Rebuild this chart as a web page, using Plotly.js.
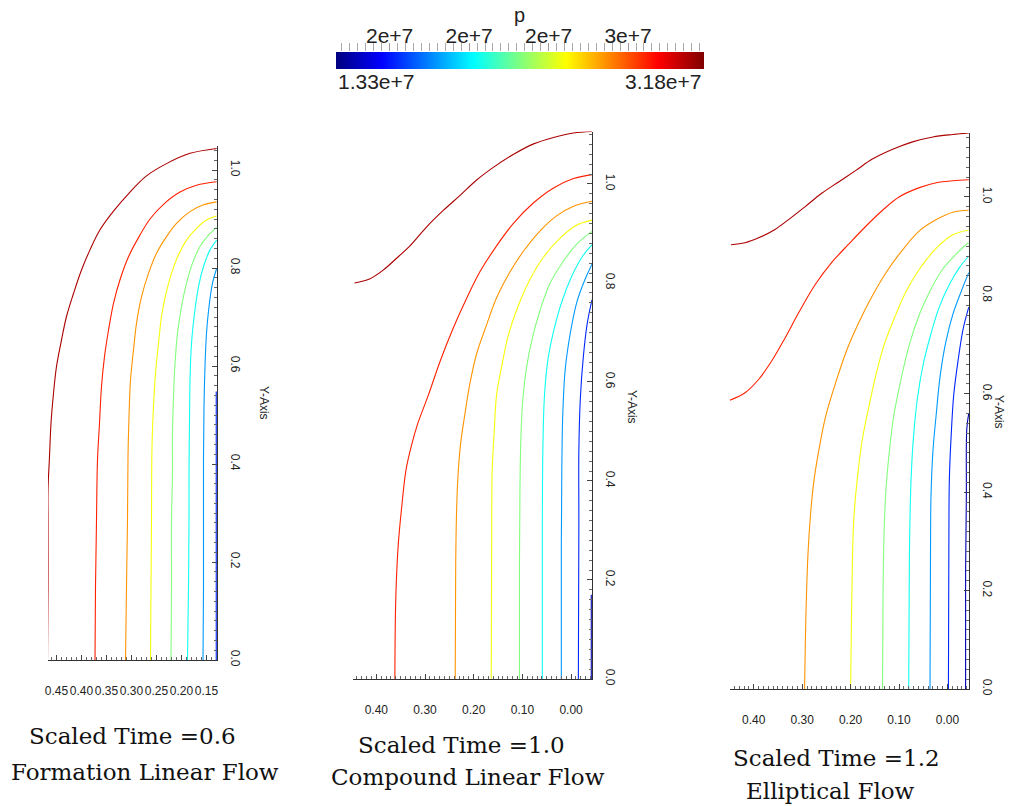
<!DOCTYPE html>
<html>
<head>
<meta charset="utf-8">
<script src="https://cdn.plot.ly/plotly-3.0.1.min.js"></script>
<style>html,body{margin:0;padding:0;background:#fff;}#chart{width:1015px;height:806px;}</style>
</head>
<body>
<div id="chart"></div>
<script>
// ---------- colour bar range ----------
const pMin = 1.33e7;
const pMax = 3.18e7;
const pTitle = 'p';

// ---------- contour levels (p) ----------
const levels06 = [3.1e7, 2.89e7, 2.68e7, 2.47e7, 2.26e7, 2.05e7, 1.84e7, 1.63e7];
const levels10 = [3.1e7, 2.89e7, 2.68e7, 2.47e7, 2.26e7, 2.05e7, 1.84e7, 1.63e7, 1.42e7];
const levels12 = [3.1e7, 2.89e7, 2.68e7, 2.47e7, 2.26e7, 2.05e7, 1.84e7, 1.63e7, 1.42e7];

// ---------- Scaled Time = 0.6 (Formation Linear Flow) ----------
const t06X = [
  [0.468,0.467,0.467,0.467,0.464,0.461,0.456,0.450,0.440,0.430,0.416,0.400,0.383,0.363,0.336,0.303,0.270,0.230,0.183,0.1297],
  [0.373,0.372,0.370,0.368,0.364,0.360,0.354,0.346,0.336,0.323,0.306,0.286,0.263,0.236,0.203,0.170,0.1297],
  [0.312,0.310,0.308,0.307,0.305,0.302,0.296,0.290,0.280,0.266,0.250,0.230,0.210,0.183,0.156,0.1297],
  [0.262,0.261,0.260,0.259,0.256,0.252,0.246,0.240,0.231,0.220,0.206,0.190,0.170,0.150,0.1297],
  [0.221,0.220,0.220,0.218,0.218,0.216,0.213,0.208,0.200,0.190,0.178,0.163,0.146,0.1297],
  [0.188,0.186,0.185,0.185,0.184,0.183,0.180,0.174,0.166,0.156,0.143,0.1297],
  [0.157,0.156,0.156,0.156,0.155,0.153,0.150,0.145,0.138,0.1297],
  [0.1305,0.1305,0.1305]
];
const t06Y = [
  [0,0.15,0.286,0.347,0.415,0.483,0.544,0.599,0.653,0.701,0.748,0.796,0.837,0.878,0.916,0.955,0.988,1.013,1.034,1.044],
  [0,0.15,0.286,0.408,0.483,0.558,0.619,0.673,0.728,0.776,0.823,0.862,0.900,0.930,0.955,0.969,0.976],
  [0,0.15,0.286,0.415,0.497,0.571,0.633,0.687,0.741,0.789,0.830,0.864,0.891,0.915,0.929,0.935],
  [0,0.15,0.286,0.435,0.517,0.585,0.646,0.701,0.748,0.789,0.827,0.857,0.881,0.898,0.906],
  [0,0.15,0.286,0.381,0.463,0.537,0.605,0.667,0.721,0.769,0.810,0.844,0.867,0.883],
  [0,0.15,0.286,0.381,0.483,0.571,0.646,0.707,0.762,0.803,0.837,0.857],
  [0,0.15,0.286,0.415,0.517,0.599,0.667,0.721,0.769,0.799],
  [0,0.30,0.548]
];

// ---------- Scaled Time = 1.0 (Compound Linear Flow) ----------
const t10X = [
  [0.445,0.414,0.386,0.355,0.331,0.297,0.262,0.228,0.194,0.159,0.118,0.077,0.036,-0.005,-0.043],
  [0.362,0.361,0.359,0.355,0.348,0.339,0.327,0.316,0.293,0.269,0.242,0.214,0.187,0.153,0.118,0.077,0.036,-0.005,-0.043],
  [0.238,0.237,0.235,0.232,0.227,0.218,0.208,0.194,0.173,0.153,0.125,0.098,0.063,0.029,-0.005,-0.043],
  [0.164,0.163,0.162,0.158,0.153,0.142,0.129,0.108,0.084,0.056,0.022,-0.012,-0.043],
  [0.106,0.106,0.105,0.103,0.099,0.092,0.080,0.063,0.043,0.015,-0.012,-0.040,-0.043],
  [0.059,0.059,0.058,0.055,0.048,0.036,0.019,-0.002,-0.023,-0.041,-0.043],
  [0.020,0.020,0.019,0.017,0.012,0.001,-0.012,-0.029,-0.043],
  [-0.015,-0.016,-0.016,-0.019,-0.025,-0.033,-0.043],
  [-0.0415,-0.0415]
];
const t10Y = [
  [0.800,0.808,0.826,0.853,0.875,0.913,0.947,0.977,1.008,1.034,1.060,1.081,1.094,1.103,1.106],
  [0,0.121,0.196,0.272,0.347,0.423,0.475,0.513,0.574,0.642,0.709,0.770,0.823,0.875,0.921,0.962,0.992,1.011,1.019],
  [0,0.234,0.347,0.415,0.475,0.536,0.596,0.657,0.717,0.770,0.823,0.864,0.906,0.936,0.955,0.965],
  [0,0.309,0.423,0.498,0.574,0.634,0.694,0.755,0.808,0.853,0.891,0.917,0.927],
  [0,0.234,0.385,0.491,0.566,0.626,0.687,0.747,0.800,0.845,0.879,0.902,0.904],
  [0,0.309,0.460,0.566,0.642,0.702,0.762,0.815,0.853,0.875,0.877],
  [0,0.272,0.423,0.536,0.626,0.702,0.762,0.808,0.838],
  [0,0.309,0.460,0.566,0.649,0.717,0.766],
  [0,0.17]
];

// ---------- Scaled Time = 1.2 (Elliptical Flow) ----------
const t12X = [
  [0.447,0.418,0.390,0.356,0.328,0.293,0.259,0.224,0.189,0.155,0.113,0.072,0.030,-0.011,-0.044],
  [0.449,0.418,0.390,0.362,0.335,0.307,0.273,0.238,0.203,0.169,0.134,0.100,0.058,0.023,-0.011,-0.044],
  [0.295,0.292,0.288,0.283,0.276,0.266,0.252,0.231,0.207,0.183,0.155,0.127,0.093,0.058,0.023,-0.011,-0.044],
  [0.200,0.198,0.196,0.193,0.186,0.176,0.162,0.148,0.131,0.110,0.086,0.058,0.023,-0.011,-0.044],
  [0.134,0.133,0.131,0.127,0.120,0.110,0.096,0.079,0.058,0.037,0.010,-0.018,-0.042,-0.044],
  [0.080,0.079,0.078,0.075,0.070,0.062,0.050,0.034,0.017,-0.004,-0.025,-0.044],
  [0.036,0.035,0.034,0.030,0.023,0.015,0.003,-0.011,-0.028,-0.044],
  [-0.002,-0.003,-0.004,-0.008,-0.013,-0.022,-0.032,-0.044],
  [-0.0375,-0.0375,-0.039,-0.040,-0.044]
];
const t12Y = [
  [0.903,0.907,0.917,0.934,0.954,0.981,1.008,1.031,1.054,1.077,1.097,1.112,1.122,1.127,1.130],
  [0.587,0.602,0.629,0.668,0.714,0.765,0.822,0.868,0.905,0.940,0.973,1.000,1.019,1.029,1.033,1.035],
  [0,0.158,0.274,0.351,0.421,0.483,0.552,0.622,0.691,0.745,0.799,0.846,0.892,0.931,0.954,0.969,0.973],
  [0,0.158,0.274,0.351,0.429,0.506,0.575,0.637,0.699,0.753,0.807,0.853,0.896,0.923,0.933],
  [0,0.197,0.313,0.405,0.483,0.560,0.629,0.699,0.761,0.807,0.853,0.884,0.906,0.907],
  [0,0.197,0.313,0.429,0.514,0.591,0.660,0.722,0.776,0.822,0.857,0.880],
  [0,0.274,0.390,0.483,0.560,0.637,0.707,0.761,0.807,0.846],
  [0,0.313,0.429,0.521,0.598,0.668,0.730,0.776],
  [0,0.236,0.390,0.529,0.560]
];

// ---------- texts ----------
const titleLine1 = ['Scaled Time =0.6', 'Scaled Time =1.0', 'Scaled Time =1.2'];
const titleLine2 = ['Formation Linear Flow', 'Compound Linear Flow', 'Elliptical Flow'];
const yAxisName = 'Y-Axis';
const minLabel = '1.33e+7';
const maxLabel = '3.18e+7';

// ---------- helpers ----------
const W = 1015, H = 806;
const px = v => v / W;
const py = v => 1 - v / H;
const jetStops = [[0,[0,0,128]],[0.125,[0,0,255]],[0.375,[0,255,255]],[0.625,[255,255,0]],[0.875,[255,0,0]],[1,[128,0,0]]];
const jetScale = jetStops.map(s => [s[0], 'rgb(' + s[1].join(',') + ')']);
function jet(v) {
  const t = Math.max(0, Math.min(1, (v - pMin) / (pMax - pMin)));
  for (let i = 1; i < jetStops.length; i++) {
    if (t <= jetStops[i][0]) {
      const a = jetStops[i-1], b = jetStops[i];
      const f = (t - a[0]) / (b[0] - a[0]);
      const c = a[1].map((ch, k) => Math.round(ch + f * (b[1][k] - ch)));
      return 'rgb(' + c.join(',') + ')';
    }
  }
  return 'rgb(128,0,0)';
}

const traces = [];
function addPanel(X, Y, lv, xa, ya) {
  X.forEach((xs, i) => {
    traces.push({type:'scatter', mode:'lines', x: xs, y: Y[i], xaxis: xa, yaxis: ya,
      line:{color: jet(lv[i]), width: 1.1, shape:'spline', smoothing:1}, hoverinfo:'skip', showlegend:false});
  });
}
addPanel(t06X, t06Y, levels06, 'x', 'y');
addPanel(t10X, t10Y, levels10, 'x2', 'y2');
addPanel(t12X, t12Y, levels12, 'x3', 'y3');
// colour bar carrier
traces.push({type:'scatter', mode:'markers', x:[null], y:[null], xaxis:'x4', yaxis:'y4',
  marker:{color:[pMin, pMax], coloraxis:'coloraxis'}, hoverinfo:'skip', showlegend:false});

const tickFont = {family:'Liberation Sans, Arial, sans-serif', size:12, color:'#222'};
function xAx(domPx, range, tick0, dtick, yname) {
  return {domain:[px(domPx[0]), px(domPx[1])], range: range, anchor: yname,
    tickmode:'linear', tick0: tick0, dtick: dtick, tickformat:'.2f', tickangle:0,
    ticks:'inside', ticklen:5, tickcolor:'#444', tickwidth:1,
    minor:{dtick:0.01, tick0:0, ticks:'inside', ticklen:3, tickcolor:'#666'},
    showline:true, linecolor:'#333', linewidth:1, showgrid:false, zeroline:false,
    ticklabelstandoff: 20, tickfont: tickFont, fixedrange:true};
}
function yAx(domPx, range, xname) {
  return {domain:[py(domPx[1]), py(domPx[0])], range: range, anchor: xname, side:'right',
    tickmode:'linear', tick0:0, dtick:0.2, tickformat:'.1f', tickangle:90,
    ticks:'inside', ticklen:5, tickcolor:'#444', tickwidth:1,
    minor:{dtick:0.02, tick0:0, ticks:'inside', ticklen:3, tickcolor:'#666'},
    showline:true, linecolor:'#333', linewidth:1, showgrid:false, zeroline:false,
    ticklabelstandoff: 8, tickfont: tickFont, fixedrange:true};
}

const serif = {family:'DejaVu Serif, serif', size:23, color:'#111'};
const annotations = [
  {text: pTitle, x: px(519.5), y: py(15), xref:'paper', yref:'paper', xanchor:'center', yanchor:'middle', showarrow:false,
   font:{family:'Liberation Sans, Arial, sans-serif', size:20, color:'#222'}},
  {text: minLabel, x: px(336), y: py(82), xref:'paper', yref:'paper', xanchor:'left', yanchor:'middle', showarrow:false,
   font:{family:'Liberation Sans, Arial, sans-serif', size:21, color:'#222'}},
  {text: maxLabel, x: px(704), y: py(82), xref:'paper', yref:'paper', xanchor:'right', yanchor:'middle', showarrow:false,
   font:{family:'Liberation Sans, Arial, sans-serif', size:21, color:'#222'}},
  {text: yAxisName, x: px(255), y: py(403), xref:'paper', yref:'paper', textangle:90, showarrow:false, font: tickFont},
  {text: yAxisName, x: px(632), y: py(407), xref:'paper', yref:'paper', textangle:90, showarrow:false, font: tickFont},
  {text: yAxisName, x: px(1008), y: py(412), xref:'paper', yref:'paper', textangle:90, showarrow:false, font: tickFont},
  {text: titleLine1[0], x: px(27), y: py(736), xref:'paper', yref:'paper', xanchor:'left', yanchor:'middle', showarrow:false, font: serif},
  {text: titleLine2[0], x: px(9), y: py(772), xref:'paper', yref:'paper', xanchor:'left', yanchor:'middle', showarrow:false, font: serif},
  {text: titleLine1[1], x: px(356), y: py(745), xref:'paper', yref:'paper', xanchor:'left', yanchor:'middle', showarrow:false, font: serif},
  {text: titleLine2[1], x: px(329), y: py(777), xref:'paper', yref:'paper', xanchor:'left', yanchor:'middle', showarrow:false, font: serif},
  {text: titleLine1[2], x: px(731), y: py(758), xref:'paper', yref:'paper', xanchor:'left', yanchor:'middle', showarrow:false, font: serif},
  {text: titleLine2[2], x: px(744), y: py(791), xref:'paper', yref:'paper', xanchor:'left', yanchor:'middle', showarrow:false, font: serif}
];

const layout = {
  width: W, height: H,
  margin:{l:0, r:0, t:0, b:0, pad:0, autoexpand:false},
  paper_bgcolor:'#fff', plot_bgcolor:'rgba(0,0,0,0)',
  showlegend:false,
  xaxis: xAx([48,217], [0.467,0.129], 0.15, 0.05, 'y'),
  yaxis: yAx([145.5,660], [0,1.05], 'x'),
  xaxis2: xAx([353,592], [0.448,-0.043], 0, 0.1, 'y2'),
  yaxis2: yAx([131.5,679], [0,1.106], 'x2'),
  xaxis3: xAx([730,969], [0.449,-0.0445], 0, 0.1, 'y3'),
  yaxis3: yAx([133,689], [0,1.13], 'x3'),
  xaxis4: {domain:[px(336), px(703.6)], range:[pMin, pMax], anchor:'y4', side:'top',
    tickmode:'linear', tick0:1.6e7, dtick:4e6, tickformat:'.0e',
    ticks:'outside', ticklen:8, tickcolor:'#999', tickwidth:1,
    minor:{tick0:1.6e7, dtick:4e5, ticks:'outside', ticklen:8, tickcolor:'#aaa'},
    showline:false, showgrid:false, zeroline:false, ticklabelstandoff:-8,
    tickfont:{family:'Liberation Sans, Arial, sans-serif', size:21, color:'#222'}, fixedrange:true},
  yaxis4: {domain:[py(69), py(52)], range:[0,1], anchor:'x4', visible:false, fixedrange:true},
  coloraxis: {cmin:pMin, cmax:pMax, colorscale: jetScale,
    colorbar:{orientation:'h', xref:'container', yref:'container', x: px(519.8), xanchor:'center',
      y: py(69), yanchor:'bottom', len: 367.6, lenmode:'pixels', thickness:17, thicknessmode:'pixels',
      xpad:0, ypad:0, outlinewidth:0, ticks:'', showticklabels:false}},
  annotations: annotations
};

Plotly.newPlot('chart', traces, layout, {displayModeBar:false, staticPlot:true});
</script>
</body>
</html>
